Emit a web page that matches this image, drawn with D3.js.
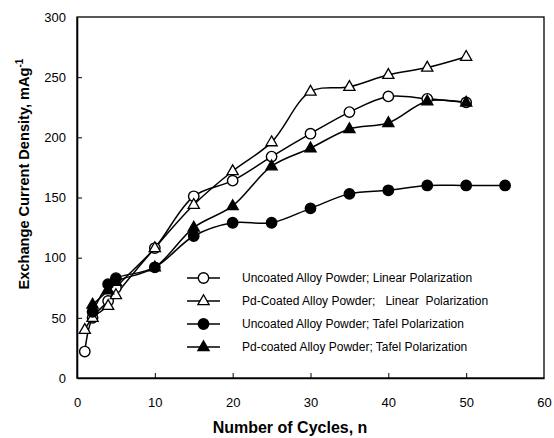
<!DOCTYPE html>
<html>
<head>
<meta charset="utf-8">
<script src="https://cdn.jsdelivr.net/npm/d3@7"></script>
<style>
  html, body { margin: 0; padding: 0; background: #fff; }
  svg { display: block; font-family: "Liberation Sans", Arial, sans-serif; }
</style>
</head>
<body>
<svg id="chart" width="554" height="438"></svg>
<script>
// Exchange current density vs. cycle number
const cyclesLinear = [1, 2, 4, 5, 10, 15, 20, 25, 30, 35, 40, 45, 50];
const uncoatedLinear = [22, 50, 64, 75, 108, 151, 164, 184, 203, 221, 234, 232, 229];
const pdCoatedLinear = [40, 50, 60, 69, 108, 144, 172, 196, 238, 242, 252, 258, 267];

const cyclesUncoatedTafel = [2, 4, 5, 10, 15, 20, 25, 30, 35, 40, 45, 50, 55];
const uncoatedTafel = [55, 78, 83, 92, 118, 129, 129, 141, 153, 156, 160, 160, 160];

const cyclesPdTafel = [2, 4, 5, 10, 15, 20, 25, 30, 35, 40, 45, 50];
const pdCoatedTafel = [61, 73, 80, 92, 125, 143, 176, 191, 207, 212, 230, 229];

const xTicks = [0, 10, 20, 30, 40, 50, 60];
const yTicks = [0, 50, 100, 150, 200, 250, 300];

const seriesNames = [
  "Uncoated Alloy Powder; Linear Polarization",
  "Pd-Coated Alloy Powder;   Linear  Polarization",
  "Uncoated Alloy Powder; Tafel Polarization",
  "Pd-coated Alloy Powder; Tafel Polarization"
];

const series = [
  { name: seriesNames[0], xs: cyclesLinear, ys: uncoatedLinear, shape: "circle", fill: "#fff" },
  { name: seriesNames[1], xs: cyclesLinear, ys: pdCoatedLinear, shape: "triangle", fill: "#fff" },
  { name: seriesNames[2], xs: cyclesUncoatedTafel, ys: uncoatedTafel, shape: "circle", fill: "#000" },
  { name: seriesNames[3], xs: cyclesPdTafel, ys: pdCoatedTafel, shape: "triangle", fill: "#000" }
];

const svg = d3.select("#chart");
const plot = { left: 77, right: 544, top: 17, bottom: 378 };

const x = d3.scaleLinear().domain([0, 60]).range([plot.left, plot.right]);
const y = d3.scaleLinear().domain([0, 300]).range([plot.bottom, plot.top]);

// frame
svg.append("rect")
  .attr("x", plot.left).attr("y", plot.top)
  .attr("width", plot.right - plot.left).attr("height", plot.bottom - plot.top)
  .attr("fill", "none").attr("stroke", "#000").attr("stroke-width", 1.3);

// axes with inward ticks
const xAxis = svg.append("g")
  .attr("transform", `translate(0,${plot.bottom})`)
  .call(d3.axisBottom(x).tickValues(xTicks).tickSizeInner(-5).tickSizeOuter(0).tickPadding(20));
const yAxis = svg.append("g")
  .attr("transform", `translate(${plot.left},0)`)
  .call(d3.axisLeft(y).tickValues(yTicks).tickSizeInner(-5).tickSizeOuter(0).tickPadding(11));

[xAxis, yAxis].forEach(g => {
  g.select(".domain").attr("stroke", "#000").attr("stroke-width", 1.6);
  g.selectAll(".tick line").attr("stroke", "#000").attr("stroke-width", 1);
  g.selectAll(".tick text").attr("fill", "#000")
    .style("font-family", '"Liberation Sans", Arial, sans-serif').style("font-size", "13px");
});
xAxis.selectAll(".tick line").filter(d => d === 0 || d === 60).remove();
yAxis.selectAll(".tick line").filter(d => d === 0 || d === 300).remove();

// axis titles
svg.append("text")
  .attr("x", 290).attr("y", 433)
  .attr("text-anchor", "middle")
  .style("font-size", "16px").style("font-weight", "bold")
  .text("Number of Cycles, n");

const yTitle = svg.append("text")
  .attr("transform", "translate(29,174) rotate(-90)")
  .attr("text-anchor", "middle")
  .style("font-size", "14.6px").style("font-weight", "bold");
yTitle.append("tspan").text("Exchange Current Density, mAg");
yTitle.append("tspan").attr("dy", -6).style("font-size", "10px").text("-1");

// series
const line = d3.line().curve(d3.curveCatmullRom.alpha(0.5));
const triPath = "M0,-6.2L5.6,3.6L-5.6,3.6Z";

function drawMarker(g, shape, fill) {
  if (shape === "circle") {
    g.append("circle").attr("r", 5.2).attr("fill", fill).attr("stroke", "#000").attr("stroke-width", 1.4);
  } else {
    g.append("path").attr("d", triPath).attr("fill", fill).attr("stroke", "#000").attr("stroke-width", 1.3);
  }
}

series.forEach(s => {
  const pts = s.xs.map((v, i) => [x(v), y(s.ys[i])]);
  svg.append("path")
    .attr("d", line(pts))
    .attr("fill", "none").attr("stroke", "#000").attr("stroke-width", 1.5);
});
series.forEach(s => {
  s.xs.forEach((v, i) => {
    const g = svg.append("g").attr("transform", `translate(${x(v)},${y(s.ys[i])})`);
    drawMarker(g, s.shape, s.fill);
  });
});

// legend
const legendRows = [278, 301, 324, 347];
series.forEach((s, i) => {
  const ly = legendRows[i];
  svg.append("line")
    .attr("x1", 187).attr("x2", 220).attr("y1", ly).attr("y2", ly)
    .attr("stroke", "#000").attr("stroke-width", 1.5);
  const g = svg.append("g").attr("transform", `translate(203.5,${ly})`);
  drawMarker(g, s.shape, s.fill);
  svg.append("text")
    .attr("x", 242).attr("y", ly + 4)
    .attr("xml:space", "preserve")
    .style("white-space", "pre")
    .style("font-size", "12px")
    .text(s.name);
});
</script>
</body>
</html>
